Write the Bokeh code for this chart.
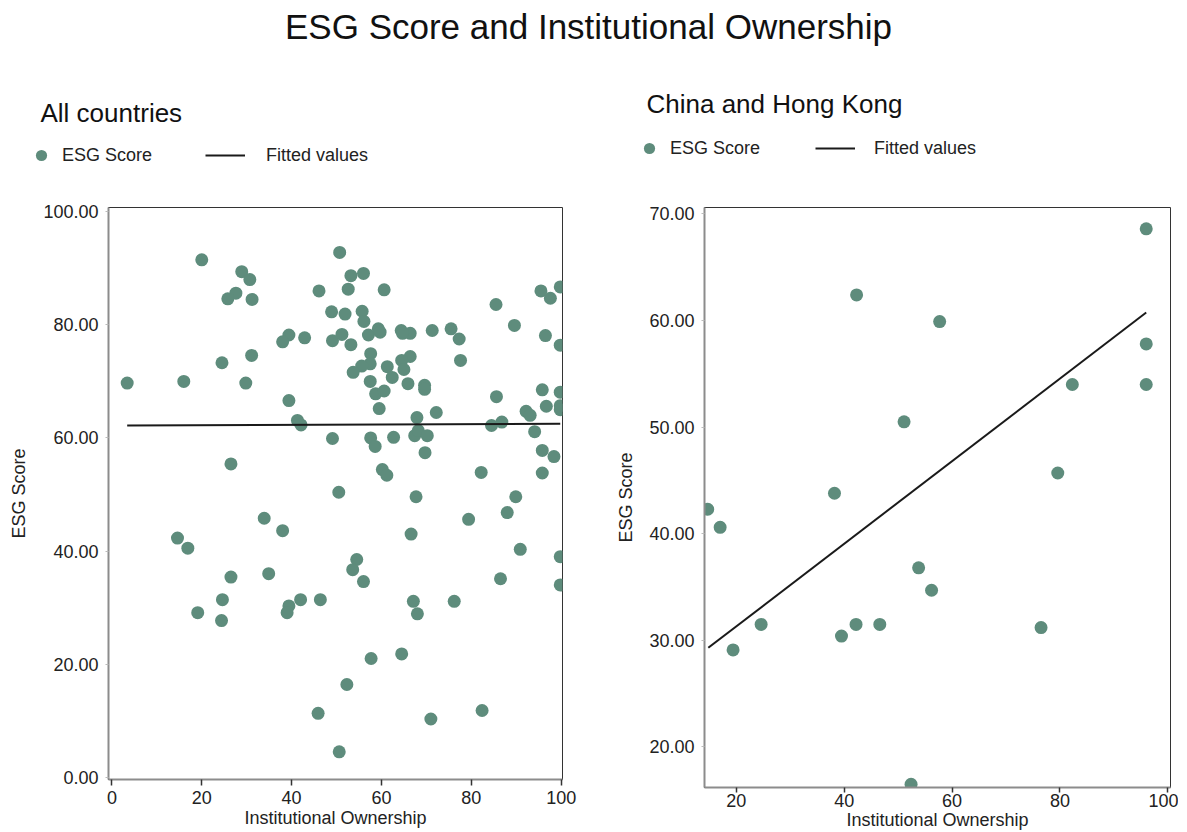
from bokeh.plotting import figure
from bokeh.models import (Legend, LegendItem, FixedTicker, PrintfTickFormatter, Range1d, Label)
from bokeh.layouts import column, row
from bokeh.embed import file_html
from bokeh.resources import INLINE

FONT = "Liberation Sans"
DOT = "#5e8c7c"
INK = "#1a1a1a"

# ---------------- data: All countries ----------------
all_own = [20.0, 28.9, 30.7, 27.6, 25.8, 31.2, 46.1, 48.9, 50.7, 39.4,
           38.0, 42.9, 49.1, 31.1, 24.5, 3.4, 16.0, 29.8, 39.4, 41.3,
           42.1, 49.1, 26.5, 50.5, 53.2, 56.0, 52.6, 60.6, 51.9, 55.7,
           56.1, 51.2, 53.2, 57.1, 59.3, 59.7, 64.4, 66.4, 64.7, 71.3,
           75.5, 77.3, 77.6, 57.6, 57.5, 55.6, 53.7, 61.3, 62.4, 66.4,
           64.5, 65.0, 57.5, 58.7, 60.6, 65.9, 69.6, 69.6, 59.5, 67.9,
           72.2, 85.5, 89.6, 95.5, 97.6, 99.8, 96.5, 99.8, 85.6, 95.8,
           99.8, 96.7, 99.8, 99.8, 92.2, 93.1, 84.5, 86.8, 94.1, 57.6,
           58.6, 62.7, 67.4, 68.2, 70.2, 69.7, 60.2, 61.2, 82.2, 95.8,
           98.4, 95.8, 67.7, 89.9, 33.9, 38.0, 14.6, 16.9, 26.5, 34.9,
           24.6, 42.0, 46.4, 39.4, 39.0, 19.1, 24.4, 45.9, 50.6, 88.0,
           79.4, 66.6, 90.9, 99.8, 54.5, 53.6, 56.0, 86.5, 99.8, 67.1,
           68.0, 76.2, 57.7, 64.5, 52.3, 82.4, 71.0]
all_esg = [91.5, 89.4, 88.0, 85.6, 84.6, 84.5, 86.0, 82.3, 92.8, 78.2,
           77.0, 77.7, 77.2, 74.6, 73.3, 69.7, 70.0, 69.7, 66.6, 63.1,
           62.3, 59.9, 55.4, 50.4, 88.7, 89.1, 86.3, 86.2, 81.9, 82.4,
           80.6, 78.3, 76.5, 78.2, 79.3, 78.7, 79.0, 78.5, 78.5, 79.0,
           79.3, 77.5, 73.7, 74.9, 73.1, 72.7, 71.6, 72.6, 70.7, 74.4,
           73.7, 72.1, 70.0, 67.8, 68.3, 69.6, 69.3, 68.6, 65.2, 63.6,
           64.5, 83.6, 79.9, 86.0, 84.7, 86.7, 78.1, 76.4, 67.3, 68.5,
           68.1, 65.6, 65.7, 65.0, 64.7, 64.0, 62.2, 62.8, 61.1, 60.0,
           58.5, 60.1, 60.4, 61.3, 60.4, 57.4, 54.4, 53.4, 53.9, 57.8,
           56.7, 53.8, 49.6, 49.6, 45.8, 43.6, 42.3, 40.5, 35.4, 36.0,
           31.4, 31.4, 31.4, 30.3, 29.1, 29.1, 27.7, 11.3, 4.5, 46.8,
           45.6, 43.0, 40.3, 39.0, 38.5, 36.7, 34.6, 35.1, 34.0, 31.1,
           28.9, 31.1, 21.0, 21.8, 16.4, 11.8, 10.3]
all_fit_own = [3.4, 99.8]
all_fit_esg = [62.2, 62.5]

# ---------------- data: China and Hong Kong ----------------
chn_own = [14.7, 17.0, 19.4, 24.6, 38.2, 39.5, 42.3, 42.2, 46.6, 51.1,
           52.4, 53.8, 56.2, 57.7, 76.5, 79.6, 82.3, 96.0, 96.0, 96.0]
chn_esg = [42.3, 40.6, 29.1, 31.5, 43.8, 30.4, 62.4, 31.5, 31.5, 50.5,
           16.5, 36.8, 34.7, 59.9, 31.2, 45.7, 54.0, 68.6, 57.8, 54.0]
chn_fit_own = [14.8, 96.0]
chn_fit_esg = [29.3, 60.75]

all_xticks = [0, 20, 40, 60, 80, 100]
all_yticks = [0, 20, 40, 60, 80, 100]
chn_xticks = [20, 40, 60, 80, 100]
chn_yticks = [20, 30, 40, 50, 60, 70]

main_title = "ESG Score and Institutional Ownership"
panel_titles = ["All countries", "China and Hong Kong"]
series_labels = ["ESG Score", "Fitted values"]

W1, W2 = 602, 576
HDR_H = 197
FIG_H = 635

# ---------------- header strip: titles and legends ----------------
hdr = figure(width=W1 + W2, height=HDR_H, output_backend="svg", toolbar_location=None,
             x_range=Range1d(0, W1 + W2), y_range=Range1d(HDR_H, 0),
             x_axis_location=None, y_axis_location=None, min_border=0, title=None)
hdr.grid.visible = False
hdr.outline_line_color = None
hdr.background_fill_color = "white"
hdr.border_fill_color = "white"

hdr.add_layout(Label(x=588, y=25.5, text=main_title, text_align="center",
                     text_baseline="alphabetic", text_font=FONT, text_font_size="35px",
                     text_color="#111111"))
hdr.add_layout(Label(x=40, y=112.5, text=panel_titles[0], text_align="left",
                     text_baseline="alphabetic", text_font=FONT, text_font_size="26px",
                     text_color="#111111"))
hdr.add_layout(Label(x=646, y=103.3, text=panel_titles[1], text_align="left",
                     text_baseline="alphabetic", text_font=FONT, text_font_size="26px",
                     text_color="#111111"))

# legend proxies (hidden renderers of the same series, used only for the legend glyphs)
leg_dot = hdr.scatter(all_own, all_esg, size=13, fill_color=DOT, line_color=None, visible=False)
leg_line = hdr.line(all_fit_own, all_fit_esg, line_color=INK, line_width=2, visible=False)

common = dict(border_line_color=None, background_fill_alpha=0, padding=0, margin=0,
              label_text_font=FONT, label_text_font_size="18px",
              label_text_color="#222222", label_height=22)


def add_legends(x_dot, x_line, centre_y, line_standoff):
    l1 = Legend(items=[LegendItem(label=series_labels[0], renderers=[leg_dot])],
                location=(x_dot, HDR_H - centre_y - 14), glyph_width=28, glyph_height=28,
                label_standoff=7, **common)
    l2 = Legend(items=[LegendItem(label=series_labels[1], renderers=[leg_line])],
                location=(x_line, HDR_H - centre_y - 11), glyph_width=40, glyph_height=22,
                label_standoff=line_standoff, **common)
    hdr.add_layout(l1, "center")
    hdr.add_layout(l2, "center")


add_legends(27, 205, 155, 21)
add_legends(635, 815, 148, 19)


def panel(xs, ys, fx, fy, xr, yr, xticks, yticks, width, mb_left, mb_right, mb_bottom,
          ylab_standoff, tick_out, xlab_standoff, xaxis_standoff):
    p = figure(width=width, height=FIG_H, output_backend="svg", toolbar_location=None,
               x_range=Range1d(*xr), y_range=Range1d(*yr), title=None,
               min_border_left=mb_left, min_border_right=mb_right,
               min_border_top=10, min_border_bottom=mb_bottom)

    p.grid.visible = False
    p.outline_line_color = "#333333"
    p.outline_line_width = 1
    p.background_fill_color = "white"
    p.border_fill_color = "white"

    for ax in (p.xaxis[0], p.yaxis[0]):
        ax.axis_line_color = "#8c8c8c"
        ax.axis_line_width = 2
        ax.minor_tick_line_color = None
        ax.major_label_text_font = FONT
        ax.major_label_text_font_size = "18px"
        ax.major_label_text_color = "#222222"
        ax.axis_label_text_font = FONT
        ax.axis_label_text_font_size = "18px"
        ax.axis_label_text_font_style = "normal"
        ax.axis_label_text_color = "#222222"
        ax.major_tick_in = 0

    xa = p.xaxis[0]
    xa.ticker = FixedTicker(ticks=xticks)
    xa.axis_label = "Institutional Ownership"
    xa.major_tick_line_color = "#333333"
    xa.major_tick_line_width = 1.5
    xa.major_tick_out = tick_out
    xa.major_label_standoff = xlab_standoff
    xa.axis_label_standoff = xaxis_standoff

    ya = p.yaxis[0]
    ya.ticker = FixedTicker(ticks=yticks)
    ya.formatter = PrintfTickFormatter(format="%.2f")
    ya.axis_label = "ESG Score"
    ya.major_tick_line_color = "#bbbbbb"
    ya.major_tick_out = 3
    ya.major_label_standoff = 7
    ya.axis_label_standoff = ylab_standoff

    p.scatter(xs, ys, size=13, fill_color=DOT, line_color=None)
    p.line(fx, fy, line_color=INK, line_width=2)
    return p


p1 = panel(all_own, all_esg, all_fit_own, all_fit_esg,
           (-0.76, 100.3), (-0.4, 100.75), all_xticks, all_yticks,
           width=W1, mb_left=108, mb_right=40, mb_bottom=53, ylab_standoff=11,
           tick_out=6, xlab_standoff=5, xaxis_standoff=1)

p2 = panel(chn_own, chn_esg, chn_fit_own, chn_fit_esg,
           (14.1, 100.5), (16.2, 70.6), chn_xticks, chn_yticks,
           width=W2, mb_left=102, mb_right=8, mb_bottom=45, ylab_standoff=10,
           tick_out=5, xlab_standoff=1, xaxis_standoff=0)

# each panel in its own column so the two frames keep their own bottom borders
layout = column(hdr, row(column(p1), column(p2)))
open("out.html", "w").write(file_html(layout, INLINE))
